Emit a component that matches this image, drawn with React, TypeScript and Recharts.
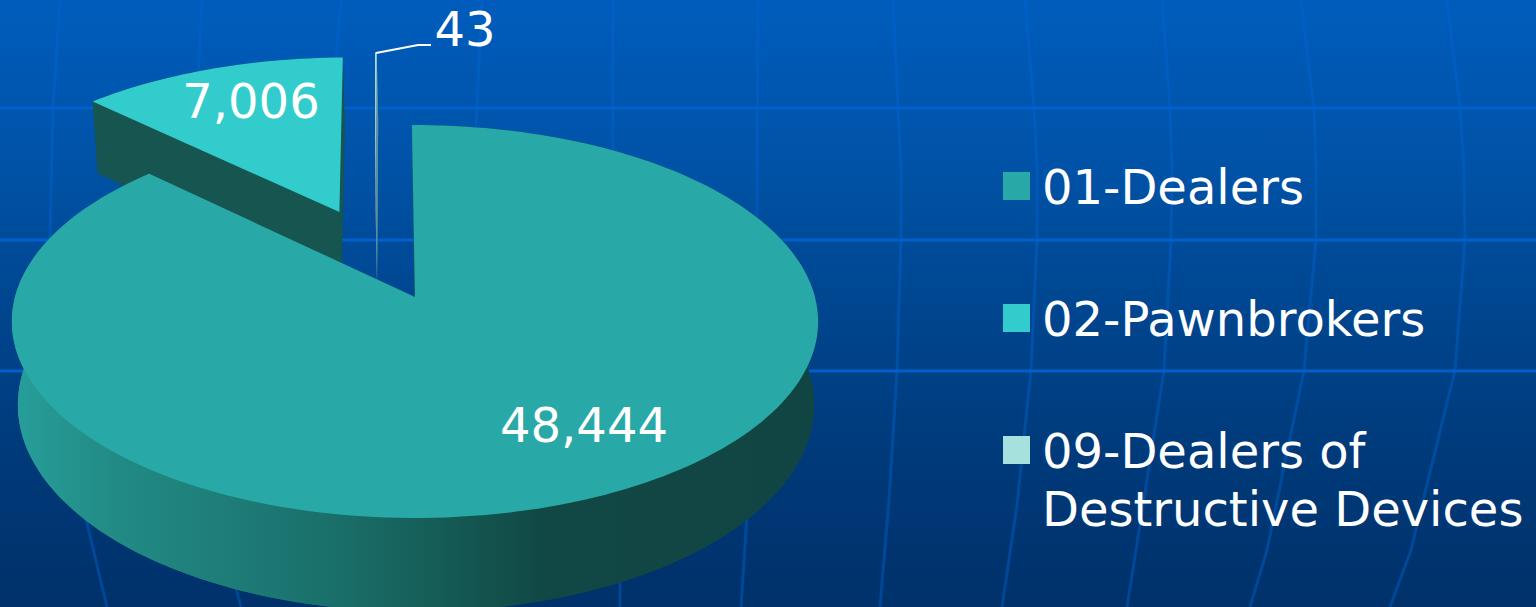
import { Legend, Pie, PieChart } from 'recharts'

const categories = ['01-Dealers', '02-Pawnbrokers', '09-Dealers of Destructive Devices']
const licenses = [48444, 7006, 43]
const sliceColors = ['#28a8a6', '#33cccc', '#a6e1dd']
const wallColors = ['url(#dealerWall)', '#165550', '#5f8fa0']

// drawn back to front, so the big slice covers the wall of the pulled-out one
const pieData = categories
  .map((name, i) => ({ name, value: licenses[i], fill: sliceColors[i], wall: wallColors[i] }))
  .reverse()

// how far each slice is pulled out, in units of the pie radius (x, y up)
const explode: Record<string, number[]> = {
  '01-Dealers': [0, 0],
  '02-Pawnbrokers': [-0.2, 0.465],
  '09-Dealers of Destructive Devices': [-0.105, 0.5],
}

const labelSpots: Record<string, number[]> = {
  '01-Dealers': [584, 442],
  '02-Pawnbrokers': [251, 118],
  '09-Dealers of Destructive Devices': [465, 46],
}

const gridRows = [108, 240, 371]
const meridians = [
  [[60, 0], [53, 108], [50, 240]],
  [[202, 0], [195, 130]],
  [[341, 0], [336, 60]],
  [[482, 0], [476, 128]],
  [[613, 0], [613, 160]],
  [[758, 0], [757, 225]],
  [[85, 515], [107, 607]],
  [[235, 585], [241, 607]],
  [[620, 575], [620, 607]],
  [[747, 515], [741, 607]],
  [[893, 0], [898, 108], [901, 170], [901, 240], [897, 370], [889, 500], [880, 607]],
  [[1025, 0], [1034, 108], [1037, 170], [1037, 240], [1031, 370], [1017, 505], [1002, 607]],
  [[1162, 0], [1170, 108], [1172, 170], [1171, 240], [1164, 370], [1136, 550], [1127, 607]],
  [[1301, 0], [1314, 108], [1316, 170], [1316, 240], [1304, 370], [1267, 550], [1250, 607]],
  [[1447, 0], [1460, 108], [1464, 170], [1465, 240], [1455, 370], [1411, 550], [1390, 607]],
]

const FONT = '"DejaVu Sans", sans-serif'
const TILT = 0.4835 // flattening of the pie
const PERSPECTIVE = 0.1247
const DEPTH = 82
const FLOOR_SCALE = 0.9875

// maps a point of the pie plane to the page
function project(cx: number, cy: number, r: number, X: number, Y: number) {
  const w = 1 + PERSPECTIVE * Y
  return [cx + (r * X) / w, cy - (r * TILT * Y) / w, w]
}

function floorPoint(cx: number, cy: number, r: number, X: number, Y: number) {
  const [x, y, w] = project(cx, cy, r, X, Y)
  return [cx + 1 + (x - cx) * FLOOR_SCALE, y + DEPTH / w]
}

const pathOf = (pts: number[][]) =>
  'M' + pts.map((p) => `${p[0].toFixed(1)},${p[1].toFixed(1)}`).join('L') + 'Z'

function Slice3D(props: any) {
  const { cx, cy, outerRadius: r, startAngle, endAngle, name, fill, payload } = props
  const [dx, dy] = explode[name ?? payload.name]
  const steps = Math.max(2, Math.ceil(Math.abs(endAngle - startAngle) / 1.5))
  const rim: number[][] = []
  for (let i = 0; i <= steps; i++) {
    const a = ((startAngle + ((endAngle - startAngle) * i) / steps) * Math.PI) / 180
    rim.push([Math.cos(a) + dx, Math.sin(a) + dy])
  }
  const apex = [dx, dy]
  const top = (p: number[]) => project(cx, cy, r, p[0], p[1])
  const floor = (p: number[]) => floorPoint(cx, cy, r, p[0], p[1])
  const wall = payload.wall ?? props.wall

  let rimWall = ''
  for (let i = 0; i < rim.length - 1; i++) {
    rimWall += pathOf([top(rim[i]), top(rim[i + 1]), floor(rim[i + 1]), floor(rim[i])])
  }
  const first = rim[0]
  const last = rim[rim.length - 1]

  return (
    <g>
      <path d={pathOf([floor(apex), ...rim.map(floor)])} fill={wall} />
      <path d={pathOf([top(apex), top(first), floor(first), floor(apex)])} fill={wall} />
      <path d={pathOf([top(apex), top(last), floor(last), floor(apex)])} fill={wall} />
      <path d={rimWall} fill={wall} />
      <path d={pathOf([top(apex), ...rim.map(top)])} fill={fill} />
    </g>
  )
}

function SliceLabel(props: any) {
  const { name, value } = props
  const [x, y] = labelSpots[name]
  return (
    <g>
      {name === categories[2] && (
        <path d="M376,53L418,45L431,45" fill="none" stroke="#ffffff" strokeWidth={2} />
      )}
      <text x={x} y={y} textAnchor="middle" fontFamily={FONT} fontSize={48} fill="#ffffff">
        {value.toLocaleString('en-US')}
      </text>
    </g>
  )
}

function LegendList({ payload }: any) {
  return (
    <div style={{ display: 'flex', flexDirection: 'column', gap: 74 }}>
      {(payload ?? []).map((entry: any) => (
        <div key={entry.value} style={{ display: 'flex', alignItems: 'flex-start' }}>
          <span
            style={{
              width: 27,
              height: 28,
              marginTop: 14,
              marginRight: 12,
              flexShrink: 0,
              background: entry.color,
            }}
          />
          <span style={{ fontFamily: FONT, fontSize: 48, lineHeight: '58px', color: '#ffffff' }}>
            {entry.value}
          </span>
        </div>
      ))}
    </div>
  )
}

export default function App() {
  return (
    <div
      style={{
        position: 'fixed',
        left: 0,
        top: 0,
        width: 1536,
        height: 607,
        overflow: 'hidden',
        background: 'linear-gradient(#005cbc 0%, #0052a6 28%, #004690 50%, #003a7a 75%, #00316a 100%)',
      }}
    >
      <svg width={1536} height={607} style={{ position: 'absolute', left: 0, top: 0 }}>
        {meridians.map((line, i) => (
          <polyline
            key={i}
            points={line.map((p) => p.join(',')).join(' ')}
            fill="none"
            stroke="#0066d6"
            strokeOpacity={0.4}
            strokeWidth={3}
            strokeLinejoin="round"
          />
        ))}
        {gridRows.map((y) => (
          <line key={y} x1={0} x2={1536} y1={y} y2={y} stroke="#0060cc" strokeWidth={3} />
        ))}
      </svg>
      <div style={{ position: 'absolute', left: 0, top: 0 }}>
        <PieChart width={1536} height={607} margin={{ top: 0, right: 0, bottom: 0, left: 0 }}>
          <defs>
            <linearGradient id="dealerWall" gradientUnits="userSpaceOnUse" x1={15} x2={820} y1={0} y2={0}>
              <stop offset="0" stopColor="#279e9a" />
              <stop offset="0.12" stopColor="#228b85" />
              <stop offset="0.27" stopColor="#1e7c77" />
              <stop offset="0.42" stopColor="#196c67" />
              <stop offset="0.52" stopColor="#155d57" />
              <stop offset="0.66" stopColor="#114744" />
              <stop offset="1" stopColor="#114544" />
            </linearGradient>
          </defs>
          <Pie
            data={pieData}
            dataKey="value"
            nameKey="name"
            cx={415}
            cy={297}
            innerRadius={0}
            outerRadius={400}
            startAngle={90.5}
            endAngle={450.5}
            stroke="none"
            shape={Slice3D}
            label={SliceLabel}
            labelLine={false}
            isAnimationActive={false}
          />
          <Legend
            content={LegendList}
            itemSorter="value"
            wrapperStyle={{ position: 'absolute', left: 1003, top: 158, width: 530, bottom: 'auto', right: 'auto' }}
          />
        </PieChart>
      </div>
    </div>
  )
}
